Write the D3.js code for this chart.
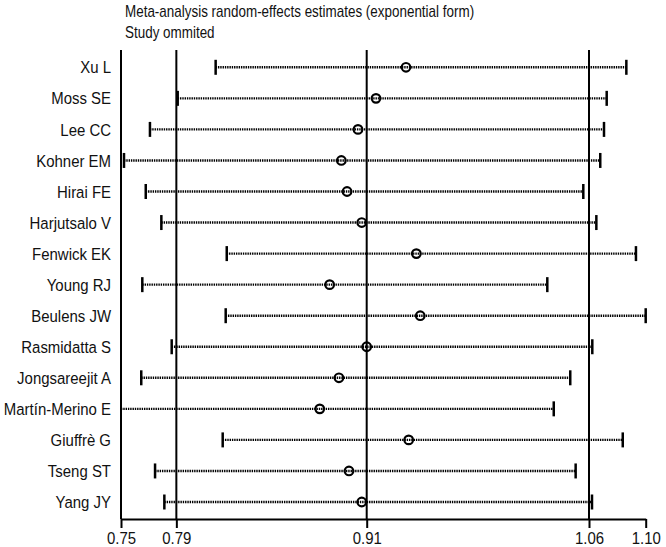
<!DOCTYPE html>
<html>
<head>
<meta charset="utf-8">
<script src="https://cdn.jsdelivr.net/npm/d3@7"></script>
<style>
  body { margin: 0; background: #fff; }
  text { font-family: "Liberation Sans", Arial, sans-serif; fill: #111; }
</style>
</head>
<body>
<svg id="chart" width="666" height="547"></svg>
<script>
const studies = ["Xu L","Moss SE","Lee CC","Kohner EM","Hirai FE","Harjutsalo V","Fenwick EK","Young RJ",
    "Beulens JW","Rasmidatta S","Jongsareejit A","Martín-Merino E","Giuffrè G","Tseng ST","Yang JY"]
const estimates = [0.9395,0.9195,0.9075,0.8964,0.9002,0.9100,0.9464,0.8886,0.9490,0.9133,0.8948,0.8820,0.9413,0.9015,0.9100]
const lowerCI   = [0.8126,0.7873,0.7688,0.7515,0.7660,0.7764,0.8200,0.7637,0.8193,0.7833,0.7630,0.7440,0.8173,0.7722,0.7784]
const upperCI   = [1.0864,1.0733,1.0715,1.0690,1.0577,1.0664,1.0928,1.0337,1.0993,1.0637,1.0490,1.0380,1.0840,1.0526,1.0635]

// axis ticks: min, overall lower CI, overall estimate, overall upper CI, max
const tickValues = [0.7495,0.7864,0.9133,1.0615,1.0993]
const tickLabels = ["0.75","0.79","0.91","1.06","1.10"]
const refLines = [0.7495,0.7864,0.9133,1.0615]

const titleLines = ["Meta-analysis random-effects estimates (exponential form)","Study ommited"]

let svg = d3.select("#chart"),
    axisY = 519,
    topY = 50

let x = d3.scaleLinear().domain([tickValues[0], tickValues[4]]).range([121, 645.7])
let y = d3.scalePoint().domain(studies).range([67.3, 502])

let rows = studies.map((s, i) => ({study: s, est: estimates[i], lo: lowerCI[i], hi: upperCI[i]}))

// title (narrow look: squeeze horizontally)
svg.selectAll(".title")
    .data(titleLines)
    .enter().append("text")
    .attr("class", "title")
    .attr("transform", (d, i) => "translate(125," + (17 + i * 21) + ") scale(0.84,1)")
    .style("font-size", "16px")
    .text(d => d)

// reference lines
svg.selectAll(".ref")
    .data(refLines)
    .enter().append("line")
    .attr("class", "ref")
    .attr("x1", d => x(d)).attr("x2", d => x(d))
    .attr("y1", topY).attr("y2", axisY)
    .style("stroke", "#000")
    .style("stroke-width", 2)

// x axis
let axis = svg.append("g")
    .attr("transform", "translate(0," + axisY + ")")
    .call(d3.axisBottom(x)
        .tickValues(tickValues)
        .tickFormat((d, i) => tickLabels[i])
        .tickSize(9)
        .tickSizeOuter(0))

axis.select(".domain").style("stroke", "#000").style("stroke-width", 2)
axis.selectAll(".tick line").style("stroke", "#000").style("stroke-width", 2)
axis.selectAll(".tick text")
    .attr("y", null)
    .attr("dy", null)
    .attr("transform", "translate(0,25) scale(0.88,1)")
    .style("font-size", "17px")
    .style("font-family", '"Liberation Sans", Arial, sans-serif')
    .style("fill", "#111")

// study rows
let row = svg.selectAll(".row")
    .data(rows)
    .enter().append("g")
    .attr("class", "row")

row.append("line")
    .attr("x1", d => x(Math.max(d.lo, x.domain()[0])))
    .attr("x2", d => x(d.hi))
    .attr("y1", d => y(d.study)).attr("y2", d => y(d.study))
    .style("stroke", "#000")
    .style("stroke-width", 2.4)
    .style("stroke-dasharray", "1.4 0.9")

row.filter(d => d.lo >= x.domain()[0]).append("line")
    .attr("x1", d => x(d.lo)).attr("x2", d => x(d.lo))
    .attr("y1", d => y(d.study) - 7.5).attr("y2", d => y(d.study) + 7.5)
    .style("stroke", "#000")
    .style("stroke-width", 2.5)

row.append("line")
    .attr("x1", d => x(d.hi)).attr("x2", d => x(d.hi))
    .attr("y1", d => y(d.study) - 7.5).attr("y2", d => y(d.study) + 7.5)
    .style("stroke", "#000")
    .style("stroke-width", 2.5)

row.append("circle")
    .attr("cx", d => x(d.est))
    .attr("cy", d => y(d.study))
    .attr("r", 4.3)
    .style("fill", "none")
    .style("stroke", "#000")
    .style("stroke-width", 2.2)

row.append("text")
    .attr("transform", d => "translate(111," + y(d.study) + ") scale(0.88,1)")
    .attr("dy", "0.36em")
    .attr("text-anchor", "end")
    .style("font-size", "17px")
    .text(d => d.study)
</script>
</body>
</html>
